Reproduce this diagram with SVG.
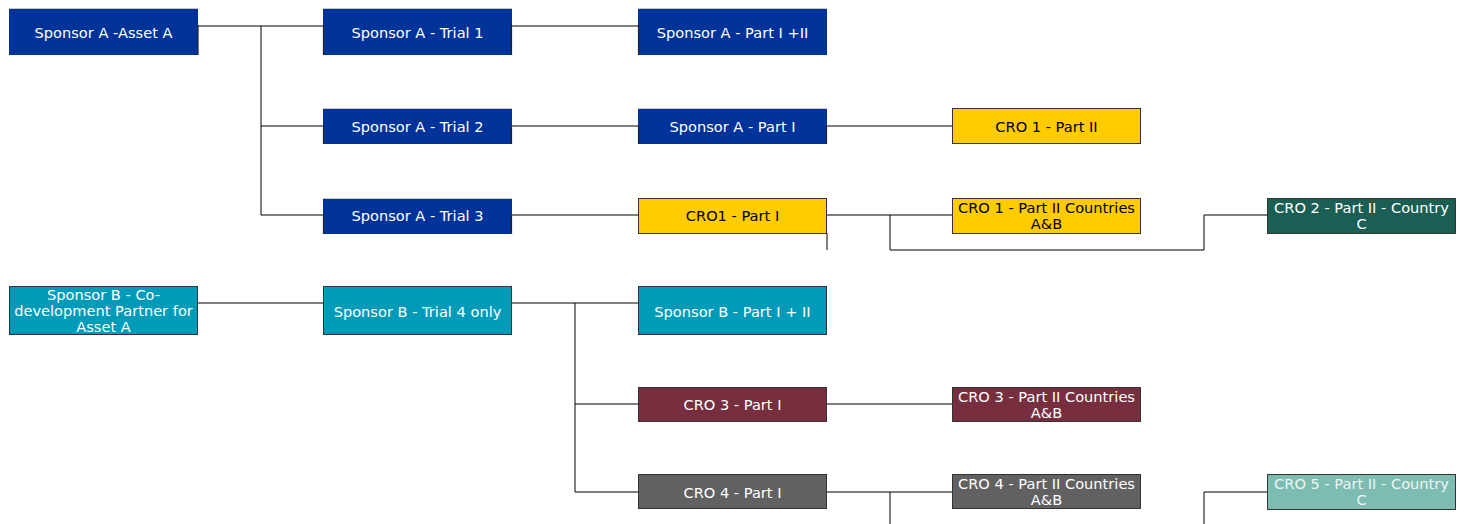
<svg xmlns="http://www.w3.org/2000/svg" width="1467" height="524" viewBox="0 0 1467 524">
<style>
.n rect{stroke:#333;stroke-width:1}
.a rect{fill:#003399;stroke:none}
.a .tb{stroke:#c8c8c8;stroke-width:1}
.a .sd{stroke:#222;stroke-width:1.2}
.y rect{fill:#ffcc00}
.t rect{fill:#009bb9}
.g rect{fill:#1b5f54}
.m rect{fill:#772f40}
.k rect{fill:#616161}
.l rect{fill:#7dbcb1}
text{font-family:"DejaVu Sans",Verdana,sans-serif;font-size:14.6px;text-anchor:middle;fill:#fff}
.y text{fill:#000}
.l text{fill:#eef6f4}
#connectors path{fill:none;stroke:#000;stroke-width:1}
</style>
<rect width="1467" height="524" fill="#fff"/>
<g id="connectors">
<path d="M198 26H323M261 26V215H323M261 126H323"/>
<path d="M512 26H638"/>
<path d="M512 126H638M827 126H952"/>
<path d="M512 215H638M827 215H952M890 215V250H1204V215H1267M827 233V250"/>
<path d="M198 303H323M512 303H638M575 303V492H638M575 404H638"/>
<path d="M827 404H952"/>
<path d="M827 492H952M890 492V524M1204 524V492H1267"/>
</g>
<g id="n1" class="n a"><rect x="9" y="8" width="189" height="47"/><path class="tb" d="M9 8.5H198"/><path class="sd" d="M198 25V55"/><text x="103.5" y="38">Sponsor A -Asset A</text></g>
<g id="n2" class="n a"><rect x="323" y="8" width="189" height="47"/><path class="tb" d="M323 8.5H512"/><path class="sd" d="M323.5 25V55M511.5 25V55"/><text x="417.5" y="38">Sponsor A - Trial 1</text></g>
<g id="n3" class="n a"><rect x="638" y="8" width="189" height="47"/><path class="tb" d="M638 8.5H827"/><path class="sd" d="M638.5 25V55"/><text x="732.5" y="38">Sponsor A - Part I +II</text></g>
<g id="n4" class="n a"><rect x="323" y="108" width="189" height="36"/><path class="tb" d="M323 108.5H512"/><path class="sd" d="M323.5 126V144M511.5 126V144"/><text x="417.5" y="132">Sponsor A - Trial 2</text></g>
<g id="n5" class="n a"><rect x="638" y="108" width="189" height="36"/><path class="tb" d="M638 108.5H827"/><path class="sd" d="M638.5 126V144M826.5 126V144"/><text x="732.5" y="132">Sponsor A - Part I</text></g>
<g id="n6" class="n y"><rect x="952.5" y="108.5" width="188" height="35"/><text x="1046.5" y="132">CRO 1 - Part II</text></g>
<g id="n7" class="n a"><rect x="323" y="198" width="189" height="36"/><path class="tb" d="M323 198.5H512"/><path class="sd" d="M323.5 215V234M511.5 215V234"/><text x="417.5" y="221">Sponsor A - Trial 3</text></g>
<g id="n8" class="n y"><rect x="638.5" y="198.5" width="188" height="35"/><text x="732.5" y="221">CRO1 - Part I</text></g>
<g id="n9" class="n y"><rect x="952.5" y="198.5" width="188" height="35"/><text x="1046.5" y="213">CRO 1 - Part II Countries</text><text x="1046.5" y="229">A&amp;B</text></g>
<g id="n10" class="n g"><rect x="1267.5" y="198.5" width="188" height="35"/><text x="1361.5" y="213">CRO 2 - Part II - Country</text><text x="1361.5" y="229">C</text></g>
<g id="n11" class="n t"><rect x="9.5" y="286.5" width="188" height="48"/><text x="103.5" y="300">Sponsor B - Co-</text><text x="103.5" y="316">development Partner for</text><text x="103.5" y="332">Asset A</text></g>
<g id="n12" class="n t"><rect x="323.5" y="286.5" width="188" height="48"/><text x="417.5" y="317">Sponsor B - Trial 4 only</text></g>
<g id="n13" class="n t"><rect x="638.5" y="286.5" width="188" height="48"/><text x="732.5" y="317">Sponsor B - Part I + II</text></g>
<g id="n14" class="n m"><rect x="638.5" y="387.5" width="188" height="34"/><text x="732.5" y="410">CRO 3 - Part I</text></g>
<g id="n15" class="n m"><rect x="952.5" y="387.5" width="188" height="34"/><text x="1046.5" y="402">CRO 3 - Part II Countries</text><text x="1046.5" y="418">A&amp;B</text></g>
<g id="n16" class="n k"><rect x="638.5" y="474.5" width="188" height="34"/><text x="732.5" y="498">CRO 4 - Part I</text></g>
<g id="n17" class="n k"><rect x="952.5" y="474.5" width="188" height="34"/><text x="1046.5" y="489">CRO 4 - Part II Countries</text><text x="1046.5" y="505">A&amp;B</text></g>
<g id="n18" class="n l"><rect x="1267.5" y="474.5" width="188" height="35"/><text x="1361.5" y="489">CRO 5 - Part II - Country</text><text x="1361.5" y="505">C</text></g>
</svg>
